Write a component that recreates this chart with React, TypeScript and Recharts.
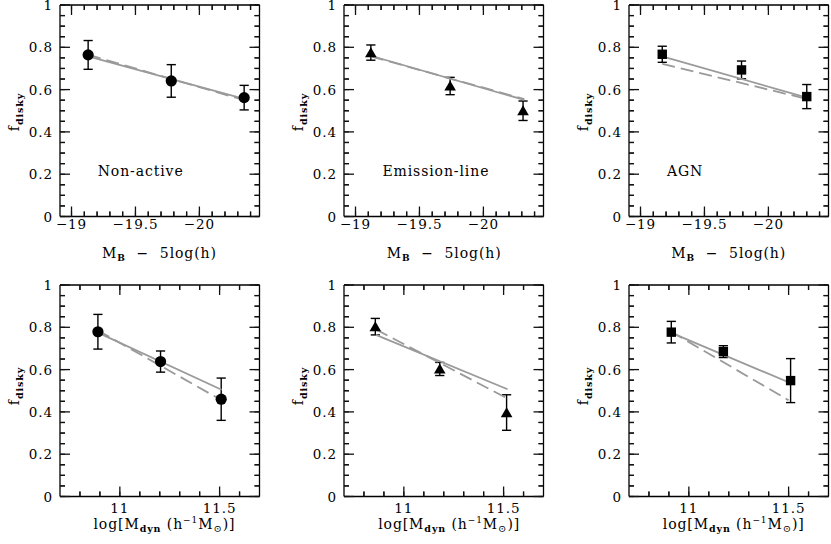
import React from 'react';
import { ComposedChart, Scatter, XAxis, YAxis, ErrorBar } from 'recharts';

const FONT = '"DejaVu Serif", "Liberation Serif", serif';
const FS = 13.5;
const LS = 0.9;
const GRAY = '#9a9a9a';
const INK = '#000';

const BOX_W = 199.5;
const BOX_H = 211.5;
const COL_LEFT = [59.7, 344.4, 629];
const ROW_TOP = [5, 285];

// y axis: disky fraction
const fracTicks = [0, 0.05, 0.1, 0.15, 0.2, 0.25, 0.3, 0.35, 0.4, 0.45, 0.5, 0.55, 0.6, 0.65, 0.7, 0.75, 0.8, 0.85, 0.9, 0.95, 1];
const fracMajor = [0, 0.2, 0.4, 0.6, 0.8, 1];
const fracLabels = ['0', '0.2', '0.4', '0.6', '0.8', '1'];

// top row x axis: absolute magnitude
const magDomain = [-20.47, -18.91];
const magTicks = [-19, -19.1, -19.2, -19.3, -19.4, -19.5, -19.6, -19.7, -19.8, -19.9, -20, -20.1, -20.2, -20.3, -20.4];
const magMajor = [-19, -19.5, -20];
const magLabels = ['\u221219', '\u221219.5', '\u221220'];

// bottom row x axis: dynamical mass
const massDomain = [10.7, 11.7];
const massTicks = [10.8, 10.9, 11, 11.1, 11.2, 11.3, 11.4, 11.5, 11.6];
const massMajor = [11, 11.5];
const massLabels = ['11', '11.5'];

// Non-active vs magnitude
const nonActiveMagX = [-19.13, -19.78, -20.35];
const nonActiveMagY = [0.764, 0.641, 0.562];
const nonActiveMagErr = [0.068, 0.077, 0.058];
const nonActiveMagFitX = [-19.13, -20.35];
const nonActiveMagFitSolid = [0.757, 0.556];
const nonActiveMagFitDashed = [0.765, 0.55];

// Emission-line vs magnitude
const emissionMagX = [-19.12, -19.74, -20.31];
const emissionMagY = [0.775, 0.617, 0.5];
const emissionMagErr = [0.036, 0.041, 0.046];
const emissionMagFitX = [-19.12, -20.32];
const emissionMagFitSolid = [0.76, 0.551];
const emissionMagFitDashed = [0.757, 0.555];

// AGN vs magnitude
const agnMagX = [-19.17, -19.79, -20.3];
const agnMagY = [0.767, 0.693, 0.567];
const agnMagErr = [0.038, 0.042, 0.057];
const agnMagFitX = [-19.17, -20.3];
const agnMagFitSolid = [0.757, 0.562];
const agnMagFitDashed = [0.722, 0.556];

// Non-active vs mass
const nonActiveMassX = [10.89, 11.204, 11.508];
const nonActiveMassY = [0.779, 0.638, 0.46];
const nonActiveMassErr = [0.082, 0.05, 0.1];
const nonActiveMassFitX = [10.89, 11.51];
const nonActiveMassFitSolid = [0.775, 0.505];
const nonActiveMassFitDashed = [0.785, 0.455];

// Emission-line vs mass
const emissionMassX = [10.857, 11.18, 11.515];
const emissionMassY = [0.803, 0.603, 0.397];
const emissionMassErr = [0.039, 0.031, 0.084];
const emissionMassFitX = [10.86, 11.52];
const emissionMassFitSolid = [0.764, 0.507];
const emissionMassFitDashed = [0.79, 0.463];

// AGN vs mass
const agnMassX = [10.912, 11.173, 11.51];
const agnMassY = [0.777, 0.685, 0.548];
const agnMassErr = [0.051, 0.028, 0.104];
const agnMassFitX = [10.91, 11.5];
const agnMassFitSolid = [0.775, 0.54];
const agnMassFitDashed = [0.78, 0.455];

const toPts = (xs: number[], ys: number[], es: number[]) => xs.map((x, i) => ({ x, y: ys[i], err: es[i] }));
const toLine = (xs: number[], ys: number[]) => xs.map((x, i) => ({ x, y: ys[i] }));

const findMajor = (majors: number[], v: number) => majors.findIndex((m) => Math.abs(m - v) < 1e-6);

function makeTick(side: string, majors: number[], labels: string[] | null, labelOffset: number) {
  return (props: any) => {
    const x = Number(props.x);
    const y = Number(props.y);
    const mi = findMajor(majors, Number(props.payload.value));
    const len = mi >= 0 ? 10 : 5;
    let x2 = x;
    let y2 = y;
    if (side === 'bottom') y2 = y - len;
    else if (side === 'top') y2 = y + len;
    else if (side === 'left') x2 = x + len;
    else x2 = x - len;
    let label: any = null;
    if (labels && mi >= 0) {
      if (side === 'bottom')
        label = (
          <text x={x} y={y + labelOffset} textAnchor="middle" fontFamily={FONT} fontSize={FS} letterSpacing={LS} fill={INK}>
            {labels[mi]}
          </text>
        );
      else
        label = (
          <text x={x - 7} y={y + 5} textAnchor="end" fontFamily={FONT} fontSize={FS} letterSpacing={LS} fill={INK}>
            {labels[mi]}
          </text>
        );
    }
    return (
      <g>
        <line x1={x} y1={y} x2={x2} y2={y2} stroke="#111" strokeWidth={1.3} />
        {label}
      </g>
    );
  };
}

const CircleMark = (p: any) => <circle cx={p.cx} cy={p.cy} r={5.6} fill={INK} />;
const TriangleMark = (p: any) => (
  <polygon points={`${p.cx - 5.8},${p.cy + 4.6} ${p.cx + 5.8},${p.cy + 4.6} ${p.cx},${p.cy - 5.4}`} fill={INK} />
);
const SquareMark = (p: any) => <rect x={p.cx - 4.7} y={p.cy - 4.7} width={9.4} height={9.4} fill={INK} />;
const NoMark = () => <g />;

const AX = { stroke: INK, strokeWidth: 1.3 };
const TL = { stroke: '#111', strokeWidth: 1.2 };

type PanelProps = {
  left: number;
  top: number;
  xDomain: number[];
  reversed: boolean;
  xTicks: number[];
  xMajor: number[];
  xLabels: string[];
  labelOffset: number;
  pts: any[];
  solid: any[];
  dashed: any[];
  marker: any;
};

function Panel(p: PanelProps) {
  const ML = 60;
  const MT = 5;
  const W = ML + BOX_W + 10;
  const H = MT + BOX_H + 40;
  return (
    <div style={{ position: 'absolute', left: p.left - ML, top: p.top - MT }}>
      <ComposedChart width={W} height={H} margin={{ top: MT - 1, right: 9, bottom: 0, left: 0 }}>
        <XAxis
          xAxisId="b"
          type="number"
          dataKey="x"
          domain={p.xDomain}
          reversed={p.reversed}
          ticks={p.xTicks}
          interval={0}
          allowDataOverflow
          height={40}
          tickSize={-5}
          tickMargin={5}
          tickLine={TL}
          axisLine={AX}
          tick={makeTick('bottom', p.xMajor, p.xLabels, p.labelOffset)}
        />
        <XAxis
          xAxisId="t"
          orientation="top"
          type="number"
          dataKey="x"
          domain={p.xDomain}
          reversed={p.reversed}
          ticks={p.xTicks}
          interval={0}
          allowDataOverflow
          height={1}
          tickSize={-5}
          tickMargin={5}
          tickLine={TL}
          axisLine={AX}
          tick={makeTick('top', p.xMajor, null, 0)}
        />
        <YAxis
          yAxisId="l"
          type="number"
          dataKey="y"
          domain={[0, 1]}
          ticks={fracTicks}
          interval={0}
          allowDataOverflow
          width={ML}
          tickSize={-5}
          tickMargin={5}
          tickLine={TL}
          axisLine={AX}
          tick={makeTick('left', fracMajor, fracLabels, 0)}
        />
        <YAxis
          yAxisId="r"
          orientation="right"
          type="number"
          dataKey="y"
          domain={[0, 1]}
          ticks={fracTicks}
          interval={0}
          allowDataOverflow
          width={1}
          tickSize={-5}
          tickMargin={5}
          tickLine={TL}
          axisLine={AX}
          tick={makeTick('right', fracMajor, null, 0)}
        />
        <Scatter
          xAxisId="b"
          yAxisId="l"
          data={p.dashed}
          line={{ stroke: GRAY, strokeWidth: 1.8, strokeDasharray: '13 6' }}
          shape={NoMark}
          isAnimationActive={false}
        />
        <Scatter
          xAxisId="b"
          yAxisId="l"
          data={p.solid}
          line={{ stroke: GRAY, strokeWidth: 1.8 }}
          shape={NoMark}
          isAnimationActive={false}
        />
        <Scatter xAxisId="b" yAxisId="l" data={p.pts} shape={p.marker} isAnimationActive={false}>
          <ErrorBar dataKey="err" direction="y" width={4.6} stroke={INK} strokeWidth={1.4} />
        </Scatter>
      </ComposedChart>
    </div>
  );
}

const notes = ['Non-active', 'Emission-line', 'AGN'];

export default function App() {
  const markers = [CircleMark, TriangleMark, SquareMark];
  const topPts = [
    toPts(nonActiveMagX, nonActiveMagY, nonActiveMagErr),
    toPts(emissionMagX, emissionMagY, emissionMagErr),
    toPts(agnMagX, agnMagY, agnMagErr),
  ];
  const topSolid = [
    toLine(nonActiveMagFitX, nonActiveMagFitSolid),
    toLine(emissionMagFitX, emissionMagFitSolid),
    toLine(agnMagFitX, agnMagFitSolid),
  ];
  const topDashed = [
    toLine(nonActiveMagFitX, nonActiveMagFitDashed),
    toLine(emissionMagFitX, emissionMagFitDashed),
    toLine(agnMagFitX, agnMagFitDashed),
  ];
  const botPts = [
    toPts(nonActiveMassX, nonActiveMassY, nonActiveMassErr),
    toPts(emissionMassX, emissionMassY, emissionMassErr),
    toPts(agnMassX, agnMassY, agnMassErr),
  ];
  const botSolid = [
    toLine(nonActiveMassFitX, nonActiveMassFitSolid),
    toLine(emissionMassFitX, emissionMassFitSolid),
    toLine(agnMassFitX, agnMassFitSolid),
  ];
  const botDashed = [
    toLine(nonActiveMassFitX, nonActiveMassFitDashed),
    toLine(emissionMassFitX, emissionMassFitDashed),
    toLine(agnMassFitX, agnMassFitDashed),
  ];

  const textStyle: any = { fontFamily: FONT, fontSize: 14, fill: INK, letterSpacing: LS, whiteSpace: 'pre' };

  return (
    <div style={{ position: 'absolute', left: 0, top: 0, width: 831, height: 544, background: '#fff', overflow: 'hidden' }}>
      {COL_LEFT.map((cl, i) => (
        <Panel
          key={'t' + i}
          left={cl}
          top={ROW_TOP[0]}
          xDomain={magDomain}
          reversed={true}
          xTicks={magTicks}
          xMajor={magMajor}
          xLabels={magLabels}
          labelOffset={12.5}
          pts={topPts[i]}
          solid={topSolid[i]}
          dashed={topDashed[i]}
          marker={markers[i]}
        />
      ))}
      {COL_LEFT.map((cl, i) => (
        <Panel
          key={'b' + i}
          left={cl}
          top={ROW_TOP[1]}
          xDomain={massDomain}
          reversed={false}
          xTicks={massTicks}
          xMajor={massMajor}
          xLabels={massLabels}
          labelOffset={16}
          pts={botPts[i]}
          solid={botSolid[i]}
          dashed={botDashed[i]}
          marker={markers[i]}
        />
      ))}
      <svg width={831} height={544} style={{ position: 'absolute', left: 0, top: 0, pointerEvents: 'none' }}>
        {COL_LEFT.map((cl, i) => (
          <g key={'txt' + i}>
            <text x={cl + 38} y={176} style={textStyle}>
              {notes[i]}
            </text>
            {[112, 386].map((cy, r) => (
              <text key={r} transform={`translate(${cl - 41},${cy}) rotate(-90)`} textAnchor="middle" style={textStyle}>
                f
                <tspan fontSize={9.5} fontWeight={700} dy={4}>
                  disky
                </tspan>
              </text>
            ))}
            <text x={cl + BOX_W / 2} y={ROW_TOP[0] + BOX_H + 41.5} textAnchor="middle" style={textStyle}>
              M
              <tspan fontSize={9} fontWeight={700} dy={3}>
                B
              </tspan>
              <tspan dy={-3}>{'  \u2212  5log(h)'}</tspan>
            </text>
            <text x={cl + BOX_W / 2 + 5} y={ROW_TOP[1] + BOX_H + 32.5} textAnchor="middle" style={textStyle}>
              log[M
              <tspan fontSize={9.5} fontWeight={700} dy={3}>
                dyn
              </tspan>
              <tspan dy={-3}>{' (h'}</tspan>
              <tspan fontSize={9} dy={-6}>
                {'\u22121'}
              </tspan>
              <tspan dy={6}>M</tspan>
              <tspan fontSize={10} dy={3}>
                {'\u2299'}
              </tspan>
              <tspan dy={-3}>)]</tspan>
            </text>
          </g>
        ))}
      </svg>
    </div>
  );
}
